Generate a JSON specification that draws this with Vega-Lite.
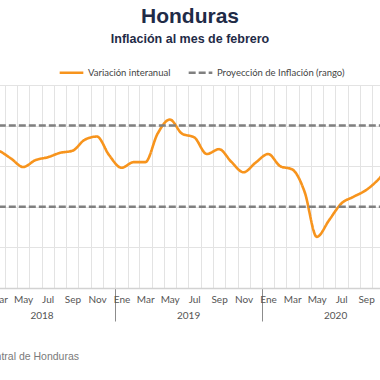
{
  "$schema": "https://vega.github.io/schema/vega-lite/v6.json",
  "width": 380,
  "height": 203,
  "autosize": {"type": "none"},
  "padding": {"top": 85, "left": 0, "right": 0, "bottom": 92},
  "background": "white",
  "title": {
    "text": "Honduras",
    "subtitle": "Inflación al mes de febrero",
    "anchor": "middle",
    "frame": "group",
    "font": "Liberation Sans",
    "fontSize": 21,
    "fontWeight": "bold",
    "color": "#1F2B47",
    "subtitleFont": "Liberation Sans",
    "subtitleFontSize": 12.5,
    "subtitleFontWeight": "bold",
    "subtitleColor": "#1F2B47",
    "subtitlePadding": 6,
    "offset": 14
  },
  "config": {"view": {"stroke": null}, "font": "Lato"},
  "layer": [
    {
      "data": {
        "values": [
          {"fecha": "2018-01", "valor": 4.50},
          {"fecha": "2018-02", "valor": 4.45},
          {"fecha": "2018-03", "valor": 4.38},
          {"fecha": "2018-04", "valor": 4.19},
          {"fecha": "2018-05", "valor": 3.98},
          {"fecha": "2018-06", "valor": 4.15},
          {"fecha": "2018-07", "valor": 4.22},
          {"fecha": "2018-08", "valor": 4.33},
          {"fecha": "2018-09", "valor": 4.38},
          {"fecha": "2018-10", "valor": 4.65},
          {"fecha": "2018-11", "valor": 4.73},
          {"fecha": "2018-12", "valor": 4.27},
          {"fecha": "2019-01", "valor": 3.96},
          {"fecha": "2019-02", "valor": 4.10},
          {"fecha": "2019-03", "valor": 4.10},
          {"fecha": "2019-04", "valor": 4.80},
          {"fecha": "2019-05", "valor": 5.15},
          {"fecha": "2019-06", "valor": 4.80},
          {"fecha": "2019-07", "valor": 4.71},
          {"fecha": "2019-08", "valor": 4.30},
          {"fecha": "2019-09", "valor": 4.42},
          {"fecha": "2019-10", "valor": 4.11},
          {"fecha": "2019-11", "valor": 3.85},
          {"fecha": "2019-12", "valor": 4.09},
          {"fecha": "2020-01", "valor": 4.30},
          {"fecha": "2020-02", "valor": 4.00},
          {"fecha": "2020-03", "valor": 3.92},
          {"fecha": "2020-04", "valor": 3.37},
          {"fecha": "2020-05", "valor": 2.26},
          {"fecha": "2020-06", "valor": 2.67},
          {"fecha": "2020-07", "valor": 3.08},
          {"fecha": "2020-08", "valor": 3.25},
          {"fecha": "2020-09", "valor": 3.41},
          {"fecha": "2020-10", "valor": 3.67},
          {"fecha": "2020-11", "valor": 4.00},
          {"fecha": "2020-12", "valor": 4.01},
          {"fecha": "2021-01", "valor": 4.05},
          {"fecha": "2021-02", "valor": 4.10}
        ]
      },
      "mark": {"type": "line", "interpolate": "monotone", "strokeWidth": 2.6, "clip": true},
      "encoding": {
        "x": {
          "field": "fecha",
          "type": "temporal",
          "timeUnit": "utcyearmonth",
          "bandPosition": 0.5,
          "scale": {
            "type": "utc",
            "domain": [
              {"year": 2018, "month": 3, "date": 1, "utc": true},
              {"year": 2020, "month": 11, "date": 1, "utc": true}
            ],
            "range": [-7.5, 384.5]
          },
          "axis": {
            "orient": "bottom",
            "title": null,
            "tickCount": {"interval": "month", "step": 1},
            "grid": true,
            "gridColor": "#e3e3e3",
            "gridWidth": 1,
            "domain": true,
            "domainColor": "#d2d2d2",
            "domainWidth": 1.5,
            "ticks": true,
            "tickSize": 33,
            "tickWidth": 1,
            "tickColor": {"condition": {"test": "utcmonth(datum.value) == 0", "value": "#8c8c8c"}, "value": "rgba(0,0,0,0)"},
            "labelExpr": "utcmonth(datum.value) % 2 == 0 ? ['Ene','Feb','Mar','Abr','May','Jun','Jul','Ago','Sep','Oct','Nov','Dic'][utcmonth(datum.value)] : ''",
            "labelOffset": 6.1,
            "labelPadding": -27,
            "labelAlign": "center",
            "labelBaseline": "top",
            "labelFont": "Lato",
            "labelFontSize": 10,
            "labelColor": "#555555",
            "labelOverlap": false,
            "labelFlush": false,
            "labelBound": false
          }
        },
        "y": {
          "field": "valor",
          "type": "quantitative",
          "scale": {"domain": [1, 6], "nice": false, "zero": false},
          "axis": {
            "title": null,
            "values": [1, 2, 3, 4, 5, 6],
            "grid": true,
            "gridColor": "#e3e3e3",
            "domain": false,
            "ticks": false,
            "labels": false
          }
        },
        "color": {
          "datum": "Variación interanual",
          "type": "nominal",
          "scale": {"domain": ["Variación interanual", "Proyección de Inflación (rango)"], "range": ["#F7941D", "#808080"]},
          "legend": {
            "title": null,
            "orient": "none",
            "legendX": 58,
            "legendY": -26,
            "direction": "horizontal",
            "symbolType": "stroke",
            "symbolSize": 560,
            "symbolStrokeWidth": 2.5,
            "labelFont": "Lato",
            "labelFontSize": 9.5,
            "labelColor": "#444444",
            "labelOffset": 3,
            "columnPadding": 12
          }
        },
        "strokeDash": {
          "datum": "Variación interanual",
          "type": "nominal",
          "scale": {"domain": ["Variación interanual", "Proyección de Inflación (rango)"], "range": [[1, 0], [7, 3]]},
          "legend": {
            "title": null,
            "orient": "none",
            "legendX": 58,
            "legendY": -26,
            "direction": "horizontal",
            "symbolType": "stroke",
            "symbolSize": 560,
            "symbolStrokeWidth": 2.5,
            "labelFont": "Lato",
            "labelFontSize": 9.5,
            "labelColor": "#444444",
            "labelOffset": 3,
            "columnPadding": 12
          }
        }
      }
    },
    {
      "data": {
        "values": [
          {"desde": "2018-01-01", "hasta": "2021-03-01", "valor": 5},
          {"desde": "2018-01-01", "hasta": "2021-03-01", "valor": 3}
        ]
      },
      "mark": {"type": "rule", "strokeWidth": 2.5, "clip": true},
      "encoding": {
        "x": {
          "field": "desde",
          "type": "temporal",
          "axis": {
            "orient": "bottom",
            "title": "Fuente: Banco Central de Honduras",
            "titleX": -89.6,
            "titleY": 71,
            "titleAlign": "left",
            "titleAnchor": "start",
            "titleBaseline": "alphabetic",
            "titleFont": "Liberation Sans",
            "titleFontSize": 10.5,
            "titleFontWeight": "normal",
            "titleColor": "#7a7a7a",
            "values": [
              {"year": 2018, "month": 7, "date": 1, "utc": true},
              {"year": 2019, "month": 7, "date": 1, "utc": true},
              {"year": 2020, "month": 7, "date": 1, "utc": true}
            ],
            "labelExpr": "'' + utcyear(datum.value)",
            "grid": false,
            "domain": false,
            "ticks": false,
            "labelPadding": 22,
            "labelAlign": "center",
            "labelBaseline": "top",
            "labelFont": "Lato",
            "labelFontSize": 10,
            "labelColor": "#555555",
            "labelOverlap": false,
            "labelFlush": false,
            "labelBound": false
          }
        },
        "x2": {"field": "hasta"},
        "y": {"field": "valor", "type": "quantitative"},
        "color": {"datum": "Proyección de Inflación (rango)", "type": "nominal"},
        "strokeDash": {"datum": "Proyección de Inflación (rango)", "type": "nominal"}
      }
    }
  ],
  "resolve": {"axis": {"x": "independent"}}
}
